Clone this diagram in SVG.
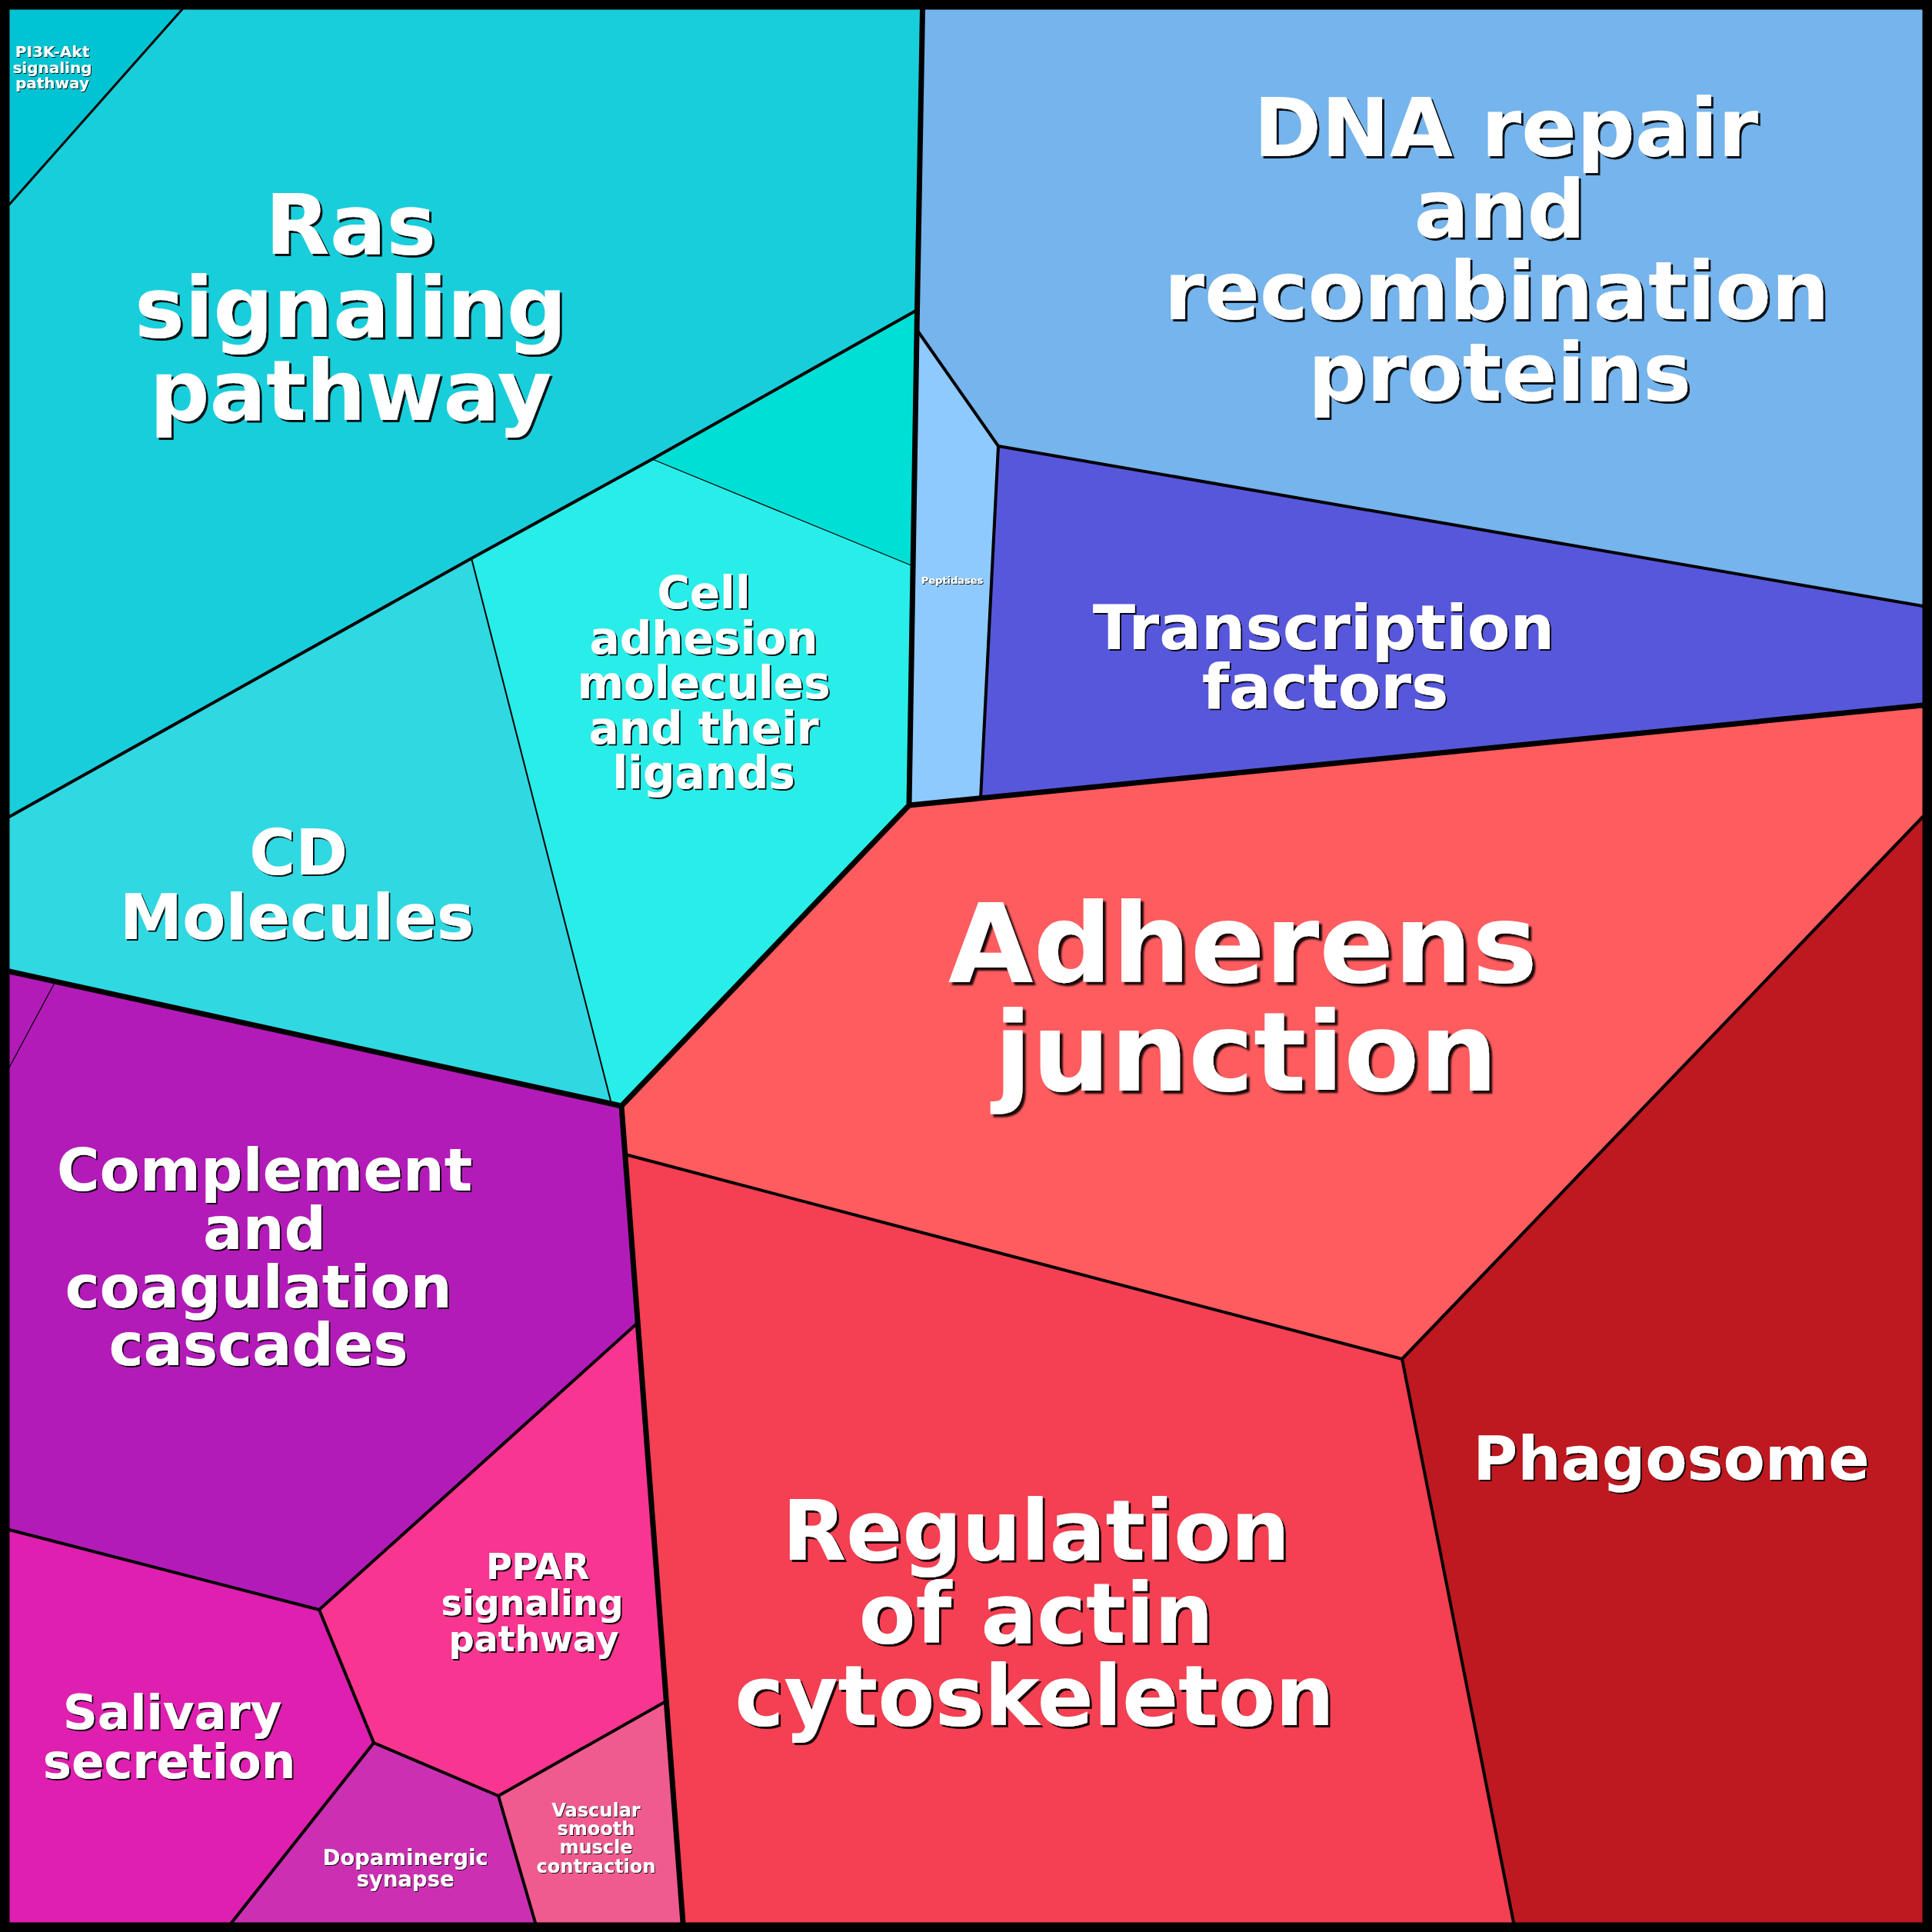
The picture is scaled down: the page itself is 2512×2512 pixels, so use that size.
<svg xmlns="http://www.w3.org/2000/svg" width="2512" height="2512" viewBox="0 0 2512 2512">
<defs>
<style>
.lbl{font-family:"DejaVu Sans","Liberation Sans",sans-serif;font-weight:bold;fill:#fff;text-anchor:middle}
.ln{fill:none;stroke:#000;stroke-linejoin:round;stroke-linecap:round}
.w7{stroke-width:7}
.w4{stroke-width:4}
.w3{stroke-width:3}
.w2{stroke-width:2}
.w1{stroke-width:1.3}
</style>
<filter id="s1" x="-10%" y="-10%" width="130%" height="130%"><feDropShadow dx="1" dy="1" stdDeviation="0.3" flood-color="#000" flood-opacity="0.9"/></filter>
<filter id="s2" x="-10%" y="-10%" width="130%" height="130%"><feDropShadow dx="2" dy="2" stdDeviation="0.5" flood-color="#000" flood-opacity="0.9"/></filter>
<filter id="s3" x="-10%" y="-10%" width="130%" height="130%"><feDropShadow dx="3" dy="3" stdDeviation="0.6" flood-color="#000" flood-opacity="0.9"/></filter>
<filter id="s4" x="-10%" y="-10%" width="130%" height="130%"><feDropShadow dx="4" dy="4" stdDeviation="0.8" flood-color="#000" flood-opacity="0.9"/></filter>
</defs>

<g id="pi3k-akt">
<polygon points="12,12 237,12 12,266" fill="#00C4D3"/>
<text class="lbl" font-size="20" filter="url(#s1)"><tspan x="68" y="74">PI3K-Akt</tspan><tspan x="68" y="95">signaling</tspan><tspan x="68" y="115">pathway</tspan></text>
</g>
<g id="ras">
<polygon points="237,12 1199.5,12 1192.5,403 848,597 613,726 12,1062 12,266" fill="#19CEDB"/>
<text class="lbl" font-size="109" filter="url(#s3)"><tspan x="456" y="330">Ras</tspan><tspan x="456" y="438">signaling</tspan><tspan x="456" y="546">pathway</tspan></text>
</g>
<g id="teal-unlabeled">
<polygon points="1192.5,403 1187,736 848,597" fill="#00DFD5"/>
</g>
<g id="cell-adhesion">
<polygon points="848,597 1187,736 1182,1047 808,1438 795,1435 613,726" fill="#29EDE8"/>
<text class="lbl" font-size="58" filter="url(#s2)"><tspan x="915" y="791">Cell</tspan><tspan x="915" y="849.5">adhesion</tspan><tspan x="915" y="908">molecules</tspan><tspan x="915" y="966.5">and their</tspan><tspan x="915" y="1025">ligands</tspan></text>
</g>
<g id="cd-molecules">
<polygon points="613,726 795,1435 12,1263 12,1062" fill="#30D8E2"/>
<text class="lbl" font-size="82" filter="url(#s2)"><tspan x="388" y="1137">CD</tspan><tspan x="386" y="1221">Molecules</tspan></text>
</g>
<g id="dna-repair">
<polygon points="1199.5,12 2500,12 2500,788 1298,580 1193,430" fill="#75B4EC"/>
<text class="lbl" font-size="106" filter="url(#s3)"><tspan x="1958" y="203">DNA repair</tspan><tspan x="1950" y="309">and</tspan><tspan x="1946" y="415">recombination</tspan><tspan x="1950" y="521">proteins</tspan></text>
</g>
<g id="peptidases">
<polygon points="1193,430 1298,580 1275,1038 1182,1047" fill="#8ECAFE"/>
<text class="lbl" font-size="13" filter="url(#s1)"><tspan x="1238" y="759">Peptidases</tspan></text>
</g>
<g id="transcription-factors">
<polygon points="1298,580 2500,788 2500,917 1275,1038" fill="#5757DC"/>
<text class="lbl" font-size="81" filter="url(#s2)"><tspan x="1721" y="844">Transcription</tspan><tspan x="1723" y="921">factors</tspan></text>
</g>
<g id="adherens-junction">
<polygon points="1182,1047 2500,917 2500,1062 1823,1767 813,1501 808,1438" fill="#FF5C5F"/>
<text class="lbl" font-size="143" filter="url(#s4)"><tspan x="1616" y="1277">Adherens</tspan><tspan x="1620" y="1418">junction</tspan></text>
</g>
<g id="phagosome">
<polygon points="2500,1062 2500,2500 1968,2500 1823,1767" fill="#BE1820"/>
<text class="lbl" font-size="79" filter="url(#s2)"><tspan x="2173" y="1924">Phagosome</tspan></text>
</g>
<g id="regulation-actin">
<polygon points="813,1501 1823,1767 1968,2500 888,2500" fill="#F53F52"/>
<text class="lbl" font-size="108" filter="url(#s3)"><tspan x="1347" y="2028">Regulation</tspan><tspan x="1347" y="2136">of actin</tspan><tspan x="1345" y="2243">cytoskeleton</tspan></text>
</g>
<g id="purple-unlabeled">
<polygon points="12,1263 72,1276 12,1388" fill="#B31BB9"/>
</g>
<g id="complement">
<polygon points="72,1276 808,1438 829,1720 415,2093 12,1989 12,1388" fill="#B31BB9"/>
<text class="lbl" font-size="76" filter="url(#s2)"><tspan x="344" y="1548">Complement</tspan><tspan x="344" y="1624">and</tspan><tspan x="336" y="1700">coagulation</tspan><tspan x="336" y="1775">cascades</tspan></text>
</g>
<g id="ppar">
<polygon points="415,2093 829,1720 866,2212 648,2335 486,2266" fill="#F93592"/>
<text class="lbl" font-size="46" filter="url(#s2)"><tspan x="699" y="2053">PPAR</tspan><tspan x="692" y="2100">signaling</tspan><tspan x="694" y="2147">pathway</tspan></text>
</g>
<g id="salivary">
<polygon points="12,1989 415,2093 486,2266 301,2500 12,2500" fill="#DE1FB0"/>
<text class="lbl" font-size="62.5" filter="url(#s2)"><tspan x="224" y="2248">Salivary</tspan><tspan x="220" y="2312">secretion</tspan></text>
</g>
<g id="dopaminergic">
<polygon points="486,2266 648,2335 696,2500 301,2500" fill="#CB30B2"/>
<text class="lbl" font-size="27.5" filter="url(#s1)"><tspan x="527" y="2425">Dopaminergic</tspan><tspan x="527" y="2453">synapse</tspan></text>
</g>
<g id="vascular">
<polygon points="648,2335 866,2212 888,2500 696,2500" fill="#EF5B8F"/>
<text class="lbl" font-size="24" filter="url(#s1)"><tspan x="775" y="2362">Vascular</tspan><tspan x="775" y="2386">smooth</tspan><tspan x="775" y="2410">muscle</tspan><tspan x="775" y="2435">contraction</tspan></text>
</g>

<g id="borders">
<path class="ln w1" d="M848,597 L1187,736"/>
<path class="ln w1" d="M72,1276 L12,1388"/>
<path class="ln w2" d="M613,726 L795,1435"/>
<path class="ln w3" d="M237,12 L12,266"/>
<path class="ln w4" d="M1192.5,403 L848,597 L613,726 L12,1062"/>
<path class="ln w4" d="M1193,430 L1298,580 L2500,788 M1298,580 L1275,1038"/>
<path class="ln w4" d="M2500,1062 L1823,1767 L1968,2500 M1823,1767 L813,1501"/>
<path class="ln w4" d="M12,1989 L415,2093 L829,1720 M415,2093 L486,2266 L301,2500 M486,2266 L648,2335 L866,2212 M648,2335 L696,2500"/>
<path class="ln w7" d="M1199.5,12 L1192.5,403 L1182,1047 L808,1438 L12,1263 M1182,1047 L2500,917 M808,1438 L888,2500"/>
<rect x="0" y="0" width="2512" height="2512" fill="none" stroke="#000" stroke-width="25"/>
</g>
</svg>
